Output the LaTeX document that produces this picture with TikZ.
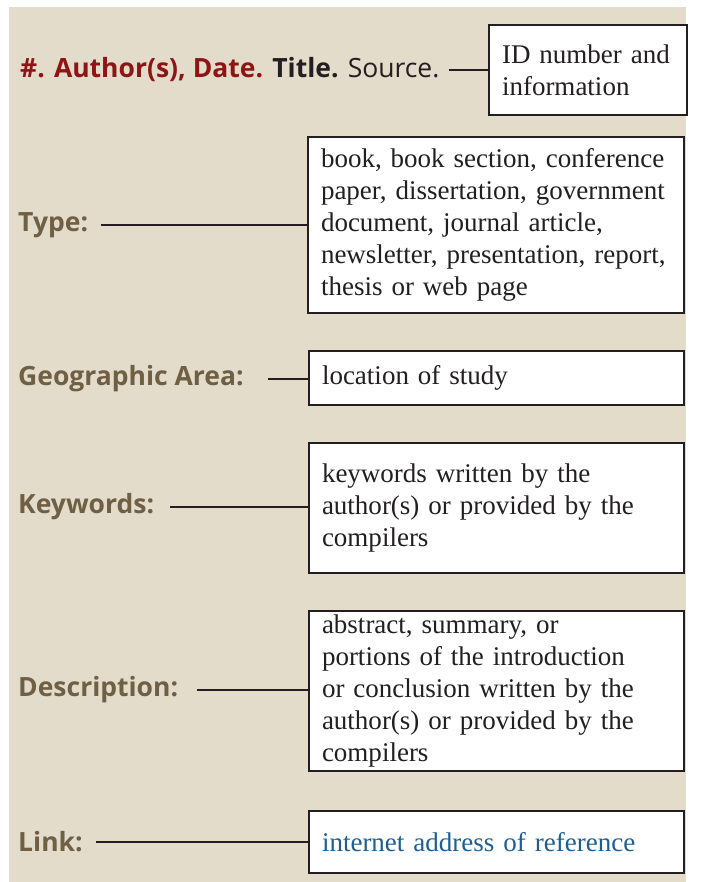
\documentclass[tikz,border=0pt]{standalone}
\usepackage{fontspec}
\setmainfont{Liberation Serif}
\newfontfamily\labelfont{Open Sans}
\definecolor{pagebg}{HTML}{E3DCCA}
\definecolor{refred}{HTML}{8E1516}
\definecolor{fieldbrown}{HTML}{6F5F45}
\definecolor{linkblue}{HTML}{1C5F96}
\definecolor{inkdark}{HTML}{231F20}
\tikzset{
  fieldbox/.style={draw=inkdark, line width=2.5pt, fill=white, inner xsep=13pt,
    align=left, font=\fontsize{27}{32}\selectfont, text=inkdark},
  fieldlabel/.style={anchor=west, inner xsep=0pt, text=fieldbrown,
    font=\labelfont\bfseries\fontsize{26.5}{30}\selectfont},
  leader/.style={line width=2pt, draw=inkdark, shorten <=13pt}
}
\begin{document}
\begin{tikzpicture}[x=1pt,y=-1pt]
\useasboundingbox (0,0) rectangle (702,882);
\fill[pagebg] (9,7) rectangle (686,882);
% boxes on the right
\node[fieldbox, minimum width=192pt, minimum height=90pt, text width=172pt] (idbox) at (588,70) {ID number and\\information};
\node[fieldbox, minimum width=376pt, minimum height=176pt, text width=350pt] (typebox) at (496,225) {book, book section, conference\\paper, dissertation, government\\document, journal article,\\newsletter, presentation, report,\\thesis or web page};
\node[fieldbox, minimum width=375pt, minimum height=54pt, text width=349pt] (areabox) at (496.5,378) {location of study};
\node[fieldbox, minimum width=375pt, minimum height=130pt, text width=349pt] (keybox) at (496.5,508) {keywords written by the\\author(s) or provided by the\\compilers};
\node[fieldbox, minimum width=375pt, minimum height=160pt, text width=349pt] (descbox) at (496.5,691) {abstract, summary, or\\portions of the introduction\\or conclusion written by the\\author(s) or provided by the\\compilers};
\node[fieldbox, minimum width=375pt, minimum height=62pt, text width=349pt, text=linkblue] (linkbox) at (496.5,842) {internet address of reference};
% labels on the left
\node[fieldlabel] (cite) at (20,70) {\textcolor{refred}{\#. Author(s), Date.} \textcolor{inkdark}{Title.} \textcolor{inkdark}{\mdseries Source.}};
\node[fieldlabel] (type) at (18,225) {Type:};
\node[fieldlabel] (area) at (18,379) {Geographic Area:};
\node[fieldlabel] (keys) at (18,507) {Keywords:};
\node[fieldlabel] (desc) at (18,690) {Description:};
\node[fieldlabel] (link) at (18,842) {Link:};
% leaders
\draw[leader, shorten <=9pt] (cite.east) -- (cite.east -| idbox.west);
\draw[leader] (type.east) -- (type.east -| typebox.west);
\draw[leader, shorten <=24pt] (area.east) -- (area.east -| areabox.west);
\draw[leader, shorten <=16pt] (keys.east) -- (keys.east -| keybox.west);
\draw[leader, shorten <=19pt] (desc.east) -- (desc.east -| descbox.west);
\draw[leader] (link.east) -- (link.east -| linkbox.west);
\end{tikzpicture}
\end{document}
